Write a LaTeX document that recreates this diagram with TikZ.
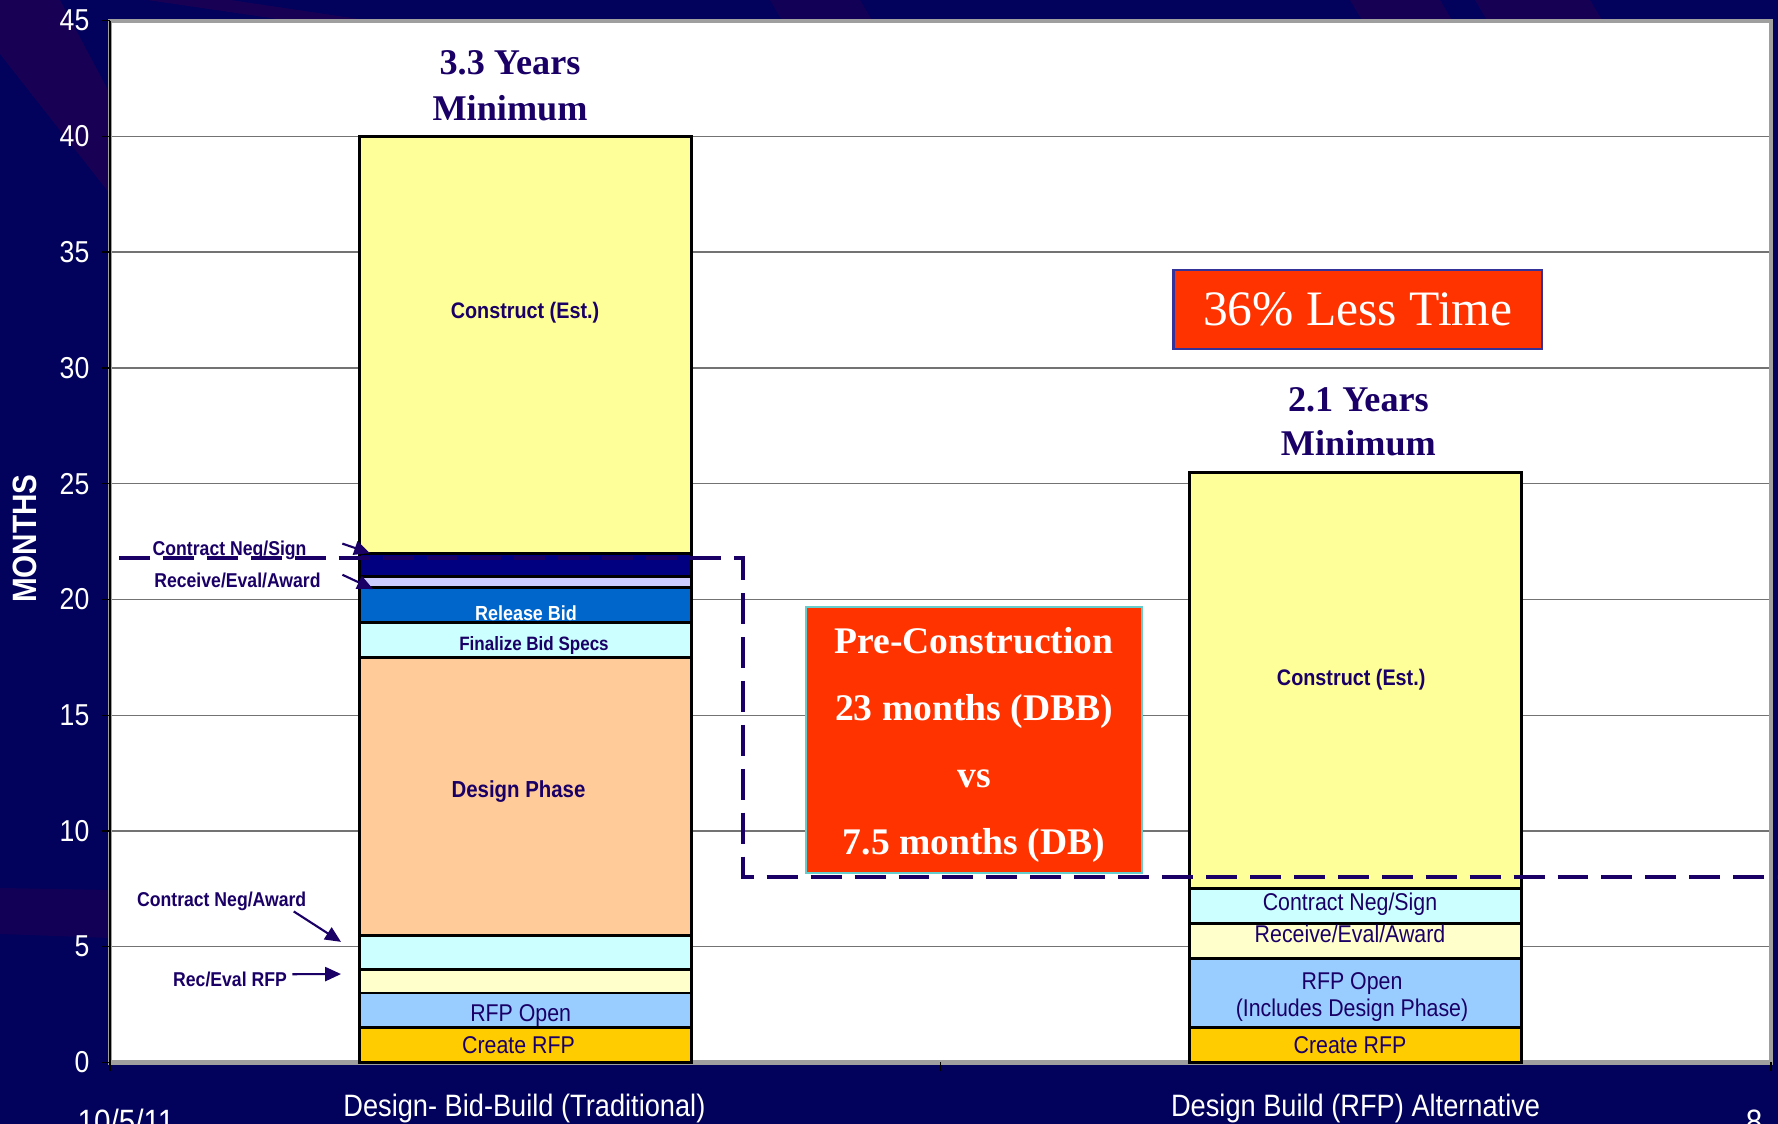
\documentclass[tikz,border=0pt]{standalone}
\usepackage{fontspec}
\usepackage{tikz}
\usetikzlibrary{shapes,arrows.meta}
\newfontfamily\chartfont[FakeStretch=0.88]{Liberation Sans}
\newfontfamily\titlefont{Liberation Serif}
\definecolor{bgnavy}{HTML}{02025C}
\definecolor{streak}{HTML}{1E0052}
\definecolor{inknavy}{HTML}{1A0066}
\definecolor{constructyellow}{HTML}{FFFF99}
\definecolor{signnavy}{HTML}{000080}
\definecolor{lavender}{HTML}{CCCCFF}
\definecolor{releaseblue}{HTML}{0066CC}
\definecolor{palecyan}{HTML}{CCFFFF}
\definecolor{designpeach}{HTML}{FFCC99}
\definecolor{palecream}{HTML}{FFFFCC}
\definecolor{rfpblue}{HTML}{99CCFF}
\definecolor{creategold}{HTML}{FFCC00}
\definecolor{alertred}{HTML}{FF3300}
\definecolor{tealedge}{HTML}{66CCCC}
\definecolor{boxedge}{HTML}{333399}
\newcommand{\fabarsegment}[4] {\draw [segbox, fill=#4] ({#1-1.661},#2) rectangle ({#1+1.661},#3);}
\newcommand{\fabarlabel}[4] {\node at (#1) (#2) [#3] {#4};}
\newcommand{\fapointer}[2] {\draw [annarrow] (#1) -- (#2);}
\tikzset{
  segbox/.style={draw=black, line width=0.8pt},
  barbold/.style={text=inknavy, inner sep=0pt, font=\chartfont\bfseries\fontsize{#1}{#1}\selectfont},
  barplain/.style={text=inknavy, inner sep=0pt, align=center, font=\chartfont\fontsize{6.9}{7.6}\selectfont},
  annarrow/.style={draw=inknavy, line width=0.6pt, -{Triangle[length=4.5pt,width=4pt]}},
  gridline/.style={draw=black!55, line width=0.4pt},
  axisnum/.style={anchor=east, inner sep=0pt, text=white, font=\chartfont\fontsize{8.6}{9}\selectfont},
  yearstitle/.style={anchor=base, inner sep=0pt, text=inknavy, font=\titlefont\bfseries\fontsize{10.3}{12}\selectfont},
  alertbox/.style={fill=alertred, text=white, line width=0.8pt, inner sep=0pt, align=center},
  categorylabel/.style={anchor=base, inner sep=0pt, text=white, font=\chartfont\fontsize{8.8}{9}\selectfont},
  phaseline/.style={draw=inknavy, line width=1.1pt, dash pattern=on 8.8pt off 3.7pt}
}

\begin{document}
\begin{tikzpicture}

\useasboundingbox (0,0) rectangle (17.78,11.24);
\fill [bgnavy] (0,0) rectangle (17.78,11.24);
\fill [streak, opacity=0.8] (0,11.24) -- (0.6,11.24) -- (1.1,10.3) -- (1.1,9.3) -- (0,10.7) -- cycle;
\fill [streak, opacity=0.6] (0,2.36) -- (1.1,2.34) -- (1.1,1.86) -- (0,1.9) -- cycle;
\fill [streak, opacity=0.8] (1.47,11.24) -- (2.3,11.24) -- (4.6,10.9) -- (3.8,10.9) -- cycle;
\fill [streak, opacity=0.6] (7.7,11.24) -- (8.6,11.24) -- (8.8,10.9) -- (7.9,10.9) -- cycle;
\fill [streak, opacity=0.7] (13.5,11.24) -- (14.4,11.24) -- (14.6,10.9) -- (13.7,10.9) -- cycle;
\fill [streak, opacity=0.7] (14.75,11.24) -- (15.9,11.24) -- (16.1,10.9) -- (14.95,10.9) -- cycle;

\begin{scope}[shift={(1.10,0.615)}, y=0.2315cm]
\fill [white] (0,0) rectangle (16.61,45);
\foreach \m in {5,10,...,40} \draw [gridline] (0,\m) -- (16.61,\m);
\draw [draw=gray!75, line width=1.2pt] (0,0) rectangle (16.61,45);
\draw [black, line width=0.6pt] (0,0) -- (0,45);
\foreach \m in {0,5,...,45} {
  \draw [black, line width=0.4pt] (-0.085,\m) -- (0,\m);
  \node at (-0.20,\m) (tick\m) [axisnum] {\m};
}
\foreach \x in {0,8.305,16.61} \draw [black, line width=0.4pt] (\x,0) -- (\x,-0.35);

% Design-Bid-Build
\fabarsegment {4.1525}{0}{1.5}{creategold};
\fabarsegment {4.1525}{1.5}{3}{rfpblue};
\fabarsegment {4.1525}{3}{4}{palecream};
\fabarsegment {4.1525}{4}{5.5}{palecyan};
\fabarsegment {4.1525}{5.5}{17.5}{designpeach};
\fabarsegment {4.1525}{17.5}{19}{palecyan};
\fabarsegment {4.1525}{19}{20.5}{releaseblue};
\fabarsegment {4.1525}{20.5}{21}{lavender};
\fabarsegment {4.1525}{21}{22}{signnavy};
\fabarsegment {4.1525}{22}{40}{constructyellow};

\fabarlabel {4.15,32.4} {build1} {barbold=6.4} {Construct (Est.)};
\fabarlabel {4.085,11.7} {design1} {barbold=6.6} {Design Phase};
\fabarlabel {4.24,18.02} {specs1} {barbold=5.5} {Finalize Bid Specs};
\fabarlabel {4.16,19.42} {release1} {barbold=5.8, text=white} {Release Bid};
\fabarlabel {4.107,2.03} {rfpopen1} {barplain} {RFP Open};
\fabarlabel {4.085,0.73} {create1} {barplain} {Create RFP};

\fabarlabel {1.196,22.14} {negsign1} {barbold=5.7} {Contract Neg/Sign};
\fabarlabel {1.275,20.84} {award1} {barbold=5.7} {Receive/Eval/Award};
\fabarlabel {1.117,6.98} {negaward1} {barbold=5.7} {Contract Neg/Award};
\fabarlabel {1.20,3.57} {evalrfp1} {barbold=5.7} {Rec/Eval RFP};
\coordinate (signtip) at (2.60,22.0);
\coordinate (awardtip) at (2.63,20.45);
\coordinate (negtip) at (2.31,5.21);
\coordinate (evaltip) at (2.31,3.82);
\fapointer {[shift={(10pt,1.8pt)}]negsign1.east} {signtip};
\fapointer {[shift={(6pt,1.5pt)}]award1.east} {awardtip};
\fapointer {[shift={(20.5pt,-3pt)}]negaward1.center} {negtip};
\fapointer {[shift={(1.4pt,1.6pt)}]evalrfp1.east} {evaltip};

% Design Build
\fabarsegment {12.4575}{0}{1.5}{creategold};
\fabarsegment {12.4575}{1.5}{4.5}{rfpblue};
\fabarsegment {12.4575}{4.5}{6}{palecream};
\fabarsegment {12.4575}{6}{7.5}{palecyan};
\fabarsegment {12.4575}{7.5}{25.5}{constructyellow};

\fabarlabel {12.412,16.55} {build2} {barbold=6.4} {Construct (Est.)};
\fabarlabel {12.40,6.85} {negsign2} {barplain} {Contract Neg/Sign};
\fabarlabel {12.40,5.56} {award2} {barplain} {Receive/Eval/Award};
\fabarlabel {12.42,2.84} {rfpopen2} {barplain} {RFP Open\\(Includes Design Phase)};
\fabarlabel {12.40,0.73} {create2} {barplain} {Create RFP};

\draw [phaseline] (0.09,21.8) -- (6.327,21.8) -- (6.327,8.03) -- (16.68,8.03);
\end{scope}

\node at (5.10,10.492) (years1) [yearstitle] {3.3 Years};
\node at (5.10,10.038) (minimum1) [yearstitle] {Minimum};
\node at (13.584,7.124) (years2) [yearstitle] {2.1 Years};
\node at (13.584,6.682) (minimum2) [yearstitle] {Minimum};

\node at (13.578,8.145) (lesstime) [alertbox, draw=boxedge, minimum width=3.684cm, minimum height=0.79cm, font=\titlefont\fontsize{14.1}{16}\selectfont] {36\% Less Time};
\node at (9.74,3.84) (precon) [alertbox, draw=tealedge, minimum width=3.36cm, minimum height=2.66cm] {};
\node at ([yshift=-1.4pt]precon.center) (precontext) [align=center, inner sep=0pt, text=white, font=\titlefont\bfseries\fontsize{10.7}{19}\selectfont] {Pre-Construction\\23 months (DBB)\\vs\\7.5 months (DB)};

\node at (0.25,5.854) (monthsaxis) [rotate=90, inner sep=0pt, text=white, font=\chartfont\bfseries\fontsize{9.6}{10}\selectfont] {MONTHS};
\node at (5.244,0.07) (dbbcat) [categorylabel] {Design- Bid-Build (Traditional)};
\node at (13.556,0.07) (dbcat) [categorylabel] {Design Build (RFP) Alternative};
\node at (1.26,-0.10) (slidedate) [categorylabel, font=\chartfont\fontsize{9.6}{10}\selectfont] {10/5/11};
\node at (17.54,-0.10) (slidenum) [categorylabel, font=\chartfont\fontsize{9.6}{10}\selectfont] {8};

%\node at (8.8,5.3) {};
\end{tikzpicture}
\end{document}
